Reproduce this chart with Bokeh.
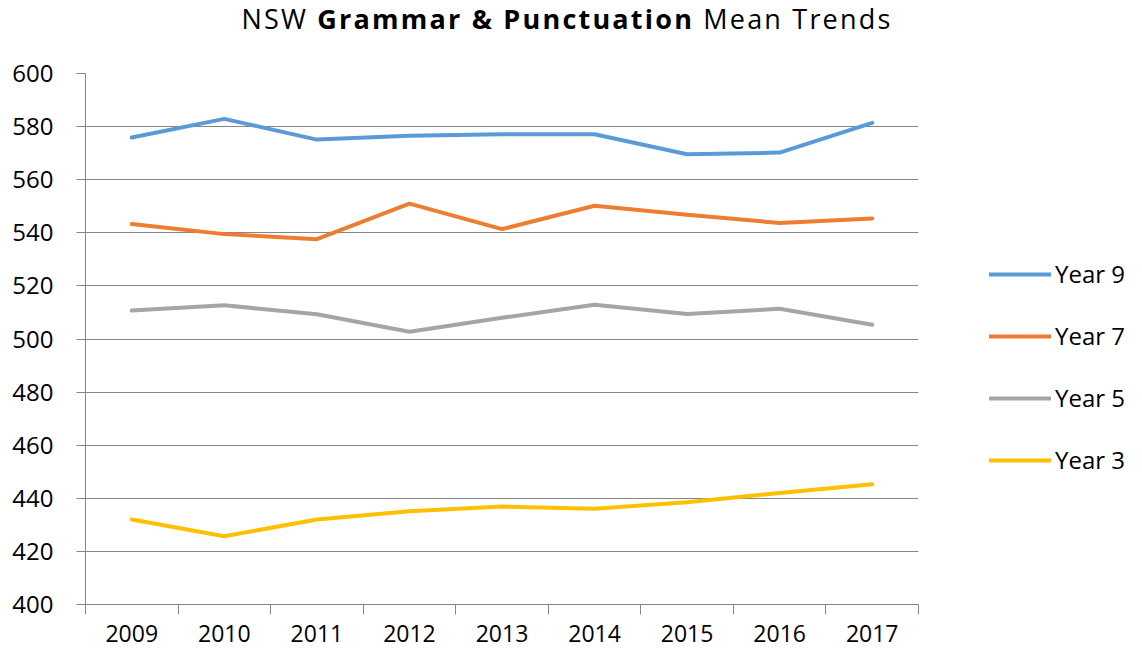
from bokeh.plotting import figure
from bokeh.models import (Range1d, FixedTicker, Legend, LegendItem, Div, ColumnDataSource)
from bokeh.layouts import column
from bokeh.embed import file_html
from bokeh.resources import INLINE

years = ["2009", "2010", "2011", "2012", "2013", "2014", "2015", "2016", "2017"]
year9 = [575.9, 582.9, 575.1, 576.6, 577.1, 577.1, 569.6, 570.2, 581.4]
year7 = [543.3, 539.5, 537.6, 551.0, 541.4, 550.2, 546.8, 543.7, 545.4]
year5 = [510.7, 512.7, 509.3, 502.7, 508.0, 512.9, 509.4, 511.4, 505.4]
year3 = [432.0, 425.7, 432.0, 435.1, 436.9, 436.1, 438.5, 442.0, 445.3]
series_names = ["Year 9", "Year 7", "Year 5", "Year 3"]
series_values = [year9, year7, year5, year3]
colors = ["#5B9BD5", "#ED7D31", "#A5A5A5", "#FFC000"]
y_ticks = list(range(400, 601, 20))

FONT = "Open Sans"
GRID = "#868686"

xpos = [i + 0.5 for i in range(len(years))]

p = figure(frame_width=833, frame_height=531,
           x_range=Range1d(0, len(years)), y_range=Range1d(400, 600),
           output_backend="svg", toolbar_location=None,
           min_border_left=85, min_border_right=216, min_border_top=25, min_border_bottom=55)
p.outline_line_color = None
p.background_fill_color = "white"
p.border_fill_color = "white"

items = []
for name, vals, c in zip(series_names, series_values, colors):
    src = ColumnDataSource(dict(x=xpos, y=vals))
    r = p.line("x", "y", source=src, line_color=c, line_width=4, line_cap="round", line_join="round")
    items.append(LegendItem(label=name, renderers=[r]))

# x axis: labels at category centres, tick marks at boundaries
xa = p.xaxis[0]
xa.ticker = FixedTicker(ticks=xpos, minor_ticks=list(range(len(years) + 1)))
xa.major_label_overrides = {x: y for x, y in zip(xpos, years)}
xa.major_tick_line_color = None
xa.major_tick_out = 10
xa.minor_tick_line_color = GRID
xa.minor_tick_out = 10
xa.minor_tick_in = 0
xa.axis_line_color = GRID
xa.major_label_text_font = FONT
xa.major_label_text_font_size = "23px"
xa.major_label_text_color = "#000000"
xa.major_label_standoff = 10

ya = p.yaxis[0]
ya.ticker = FixedTicker(ticks=y_ticks)
ya.minor_tick_line_color = None
ya.major_tick_line_color = GRID
ya.major_tick_out = 9
ya.major_tick_in = 0
ya.axis_line_color = GRID
ya.major_label_text_font = FONT
ya.major_label_text_font_size = "24px"
ya.major_label_text_color = "#000000"
ya.major_label_standoff = 23

p.xgrid.grid_line_color = None
p.ygrid.ticker = FixedTicker(ticks=y_ticks)
p.ygrid.grid_line_color = GRID
p.ygrid.grid_line_width = 1

legend = Legend(items=items, location=(71, 128), orientation="vertical",
                glyph_width=62, glyph_height=30, label_height=30, spacing=29,
                label_standoff=4, padding=0, margin=0,
                label_text_font=FONT, label_text_font_size="24px", label_text_color="#000000",
                border_line_color=None, background_fill_alpha=0)
p.add_layout(legend, "right")

title = Div(text='<div style="width:1126px;padding-left:8px;text-align:center;font-family:\'Open Sans\';font-size:27px;'
                 'letter-spacing:2.2px;color:#000;line-height:1.2;padding-top:3px;white-space:nowrap;">'
                 'NSW <b>Grammar &amp; Punctuation</b> Mean Trends</div>',
            width=1134, height=48, margin=(0, 0, 0, 0))

layout = column(title, p, spacing=0)
open("out.html", "w").write(file_html(layout, INLINE))
